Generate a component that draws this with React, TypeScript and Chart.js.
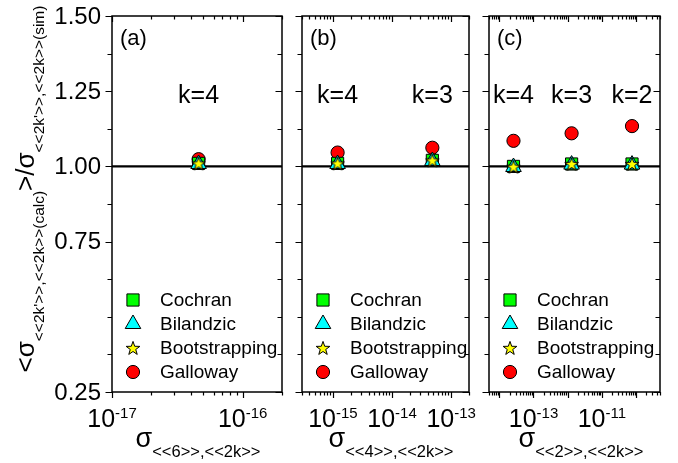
import { useEffect, useRef } from "react";
import { Chart, registerables } from "chart.js";
import { drawPoint } from "chart.js/helpers";

Chart.register(...registerables);

// ---------- data ----------
const METHODS = ["Cochran", "Bilandzic", "Bootstrapping", "Galloway"];

// y axis: ratio of calculated to simulated statistical error
const Y_MIN = 0.25;
const Y_MAX = 1.5;
const Y_TICKS = [0.25, 0.375, 0.5, 0.625, 0.75, 0.875, 1.0, 1.125, 1.25, 1.375, 1.5];
const Y_LABELLED = [0.25, 0.75, 1.0, 1.25, 1.5];

// (a) sigma_<<6>>,<<2k>>
const aK = ["k=4"];
const aSigma = [4.6e-17];
const aCochran = [1.01];
const aBilandzic = [1.008];
const aBootstrapping = [1.01];
const aGalloway = [1.024];
const aDecades = [-17, -16];

// (b) sigma_<<4>>,<<2k>>
const bK = ["k=4", "k=3"];
const bSigma = [1.2e-15, 4.8e-14];
const bCochran = [1.01, 1.02];
const bBilandzic = [1.008, 1.018];
const bBootstrapping = [1.01, 1.02];
const bGalloway = [1.046, 1.062];
const bDecades = [-15, -14, -13];

// (c) sigma_<<2>>,<<2k>>
const cK = ["k=4", "k=3", "k=2"];
const cSigma = [2.6e-14, 1.3e-12, 7.6e-11];
const cCochran = [1.0, 1.008, 1.008];
const cBilandzic = [0.998, 1.006, 1.006];
const cBootstrapping = [0.999, 1.008, 1.008];
const cGalloway = [1.085, 1.11, 1.134];
const cDecades = [-13, -11];

// ---------- layout / style ----------
const FONT = '"Liberation Sans", Arial, Helvetica, sans-serif';
const H = 463;
const PLOT_TOP = 16;
const PLOT_BOTTOM = 392;
const K_LABEL_BASE = 1.21; // baseline level of the "k=" annotations
const REF_LEVEL = 1.0;

type Panel = {
  letter: string;
  kLabels: string[];
  sigma: number[];
  series: number[][];
  xMin: number;
  xMax: number;
  decades: number[];
  sub: string;
  canvasLeft: number;
  canvasWidth: number;
  padLeft: number;
  padRight: number;
  titleCenter: number;
  yLabels: boolean;
};

const PANELS: Panel[] = [
  {
    letter: "(a)", kLabels: aK, sigma: aSigma,
    series: [aCochran, aBilandzic, aBootstrapping, aGalloway],
    xMin: 1e-17, xMax: 2e-16, decades: aDecades, sub: "<<6>>,<<2k>>",
    canvasLeft: 0, canvasWidth: 292, padLeft: 112, padRight: 7, titleCenter: 198, yLabels: true,
  },
  {
    letter: "(b)", kLabels: bK, sigma: bSigma,
    series: [bCochran, bBilandzic, bBootstrapping, bGalloway],
    xMin: 3e-16, xMax: 2e-13, decades: bDecades, sub: "<<4>>,<<2k>>",
    canvasLeft: 292, canvasWidth: 187, padLeft: 6, padRight: 6, titleCenter: 99, yLabels: false,
  },
  {
    letter: "(c)", kLabels: cK, sigma: cSigma,
    series: [cCochran, cBilandzic, cBootstrapping, cGalloway],
    xMin: 5e-15, xMax: 5e-10, decades: cDecades, sub: "<<2>>,<<2k>>",
    canvasLeft: 479, canvasWidth: 199, padLeft: 7, padRight: 18, titleCenter: 102, yLabels: false,
  },
];

function makeStar(): HTMLCanvasElement {
  const c = document.createElement("canvas");
  c.width = 18;
  c.height = 18;
  const ctx = c.getContext("2d")!;
  const R = 7.2;
  const r = R * 0.4;
  ctx.beginPath();
  for (let i = 0; i < 10; i++) {
    const rad = i % 2 === 0 ? R : r;
    const a = -Math.PI / 2 + (i * Math.PI) / 5;
    const x = 9 + rad * Math.cos(a);
    const y = 9.6 + rad * Math.sin(a);
    if (i === 0) ctx.moveTo(x, y);
    else ctx.lineTo(x, y);
  }
  ctx.closePath();
  ctx.fillStyle = "#ffff00";
  ctx.fill();
  ctx.lineWidth = 1;
  ctx.strokeStyle = "#000";
  ctx.stroke();
  return c;
}

type Marker = { pointStyle: any; radius: number; color: string };

function markers(star: HTMLCanvasElement): Marker[] {
  return [
    { pointStyle: "rect", radius: 8.6, color: "#00ff00" },
    { pointStyle: "triangle", radius: 9, color: "#00ffff" },
    { pointStyle: star, radius: 7, color: "#ffff00" },
    { pointStyle: "circle", radius: 6.6, color: "#ff0000" },
  ];
}

type Seg = { text: string; size: number; dy: number };

function segWidth(ctx: CanvasRenderingContext2D, segs: Seg[]) {
  let w = 0;
  for (const s of segs) {
    ctx.font = `${s.size}px ${FONT}`;
    w += ctx.measureText(s.text).width;
  }
  return w;
}

function drawSegs(ctx: CanvasRenderingContext2D, segs: Seg[], x: number, y: number) {
  let cx = x;
  for (const s of segs) {
    ctx.font = `${s.size}px ${FONT}`;
    ctx.fillText(s.text, cx, y + s.dy);
    cx += ctx.measureText(s.text).width;
  }
}

function panelPlugin(p: Panel, mk: Marker[]) {
  return {
    id: "panelDecor",
    beforeDatasetsDraw(chart: Chart) {
      const { ctx, chartArea } = chart;
      const y = chart.scales.y.getPixelForValue(REF_LEVEL);
      ctx.save();
      ctx.strokeStyle = "#000";
      ctx.lineWidth = 2.2;
      ctx.beginPath();
      ctx.moveTo(chartArea.left, y);
      ctx.lineTo(chartArea.right, y);
      ctx.stroke();
      ctx.restore();
    },
    afterDatasetsDraw(chart: Chart) {
      const { ctx, chartArea } = chart;
      const xs = chart.scales.x;
      const ys = chart.scales.y;
      const { left, right, top, bottom } = chartArea;
      ctx.save();
      ctx.strokeStyle = "#000";
      ctx.fillStyle = "#000";

      // frame
      ctx.lineWidth = 1.5;
      ctx.strokeRect(left, top, right - left, bottom - top);

      // x ticks (bottom outward, top inward)
      ctx.lineWidth = 1.2;
      const e0 = Math.floor(Math.log10(p.xMin));
      const e1 = Math.ceil(Math.log10(p.xMax));
      for (let e = e0; e <= e1; e++) {
        for (let m = 1; m <= 9; m++) {
          const v = m * Math.pow(10, e);
          if (v < p.xMin * 0.999 || v > p.xMax * 1.001) continue;
          const px = Math.round(xs.getPixelForValue(v)) + 0.5;
          const len = m === 1 ? 6 : 3.5;
          ctx.beginPath();
          ctx.moveTo(px, bottom);
          ctx.lineTo(px, bottom + len);
          ctx.moveTo(px, top);
          ctx.lineTo(px, top + len);
          ctx.stroke();
        }
      }

      // y ticks (left outward, right inward)
      for (const v of Y_TICKS) {
        const py = Math.round(ys.getPixelForValue(v)) + 0.5;
        const len = Y_LABELLED.includes(v) ? 6.5 : 4.5;
        ctx.beginPath();
        ctx.moveTo(left - len, py);
        ctx.lineTo(left, py);
        ctx.moveTo(right - len, py);
        ctx.lineTo(right, py);
        ctx.stroke();
      }

      // x tick labels: 10^e
      ctx.textBaseline = "alphabetic";
      ctx.textAlign = "left";
      for (const e of p.decades) {
        const px = xs.getPixelForValue(Math.pow(10, e));
        const segs: Seg[] = [
          { text: "10", size: 25, dy: 0 },
          { text: `-${Math.abs(e)}`, size: 15, dy: -9 },
        ];
        const w = segWidth(ctx, segs);
        drawSegs(ctx, segs, px - w / 2, 427);
      }

      // y tick labels
      if (p.yLabels) {
        ctx.font = `24px ${FONT}`;
        ctx.textAlign = "right";
        ctx.textBaseline = "middle";
        for (const v of Y_LABELLED) {
          ctx.fillText(v.toFixed(2), left - 11, ys.getPixelForValue(v) + 1);
        }
        // rotated y title
        const segs: Seg[] = [
          { text: "<σ", size: 26, dy: 0 },
          { text: "<<2k'>>,<<2k>>(calc)", size: 15.5, dy: 10 },
          { text: ">/σ", size: 26, dy: 0 },
          { text: "<<2k'>>,<<2k>>(sim)", size: 15.5, dy: 10 },
        ];
        const w = segWidth(ctx, segs);
        ctx.save();
        ctx.translate(34, 189 + w / 2);
        ctx.rotate(-Math.PI / 2);
        ctx.textAlign = "left";
        ctx.textBaseline = "alphabetic";
        drawSegs(ctx, segs, 0, 0);
        ctx.restore();
      }

      // x title
      {
        ctx.textAlign = "left";
        ctx.textBaseline = "alphabetic";
        const segs: Seg[] = [
          { text: "σ", size: 27, dy: 0 },
          { text: p.sub, size: 16.5, dy: 10 },
        ];
        const w = segWidth(ctx, segs);
        drawSegs(ctx, segs, p.titleCenter - w / 2, 447);
      }

      // panel letter
      ctx.font = `22px ${FONT}`;
      ctx.textAlign = "left";
      ctx.textBaseline = "alphabetic";
      ctx.fillText(p.letter, left + 8, 45);

      // k annotations above each group
      ctx.font = `25px ${FONT}`;
      ctx.textAlign = "center";
      const ky = ys.getPixelForValue(K_LABEL_BASE);
      p.kLabels.forEach((k, i) => {
        ctx.fillText(k, xs.getPixelForValue(p.sigma[i]), ky);
      });

      // legend
      ctx.font = `19px ${FONT}`;
      ctx.textAlign = "left";
      ctx.textBaseline = "middle";
      METHODS.forEach((name, i) => {
        const rowY = 300 + i * 24;
        const m = mk[i];
        ctx.fillStyle = m.color;
        ctx.strokeStyle = "#000";
        ctx.lineWidth = 1;
        drawPoint(ctx, { pointStyle: m.pointStyle, radius: m.radius, rotation: 0, borderWidth: 1 } as any, left + 21, rowY);
        ctx.fillStyle = "#000";
        ctx.fillText(name, left + 48, rowY + 1);
      });

      ctx.restore();
    },
  };
}

function buildChart(canvas: HTMLCanvasElement, p: Panel, mk: Marker[]) {
  const order = [2, 1, 0, 3];
  const datasets = METHODS.map((name, i) => ({
    label: name,
    data: p.sigma.map((x, j) => ({ x, y: p.series[i][j] })),
    pointStyle: mk[i].pointStyle,
    pointRadius: mk[i].radius,
    pointBackgroundColor: mk[i].color,
    pointBorderColor: "#000",
    pointBorderWidth: 1,
    showLine: false,
    order: order[i],
  }));
  return new Chart(canvas, {
    type: "scatter",
    data: { datasets } as any,
    options: {
      responsive: false,
      animation: false,
      events: [],
      devicePixelRatio: 1,
      layout: {
        padding: { left: p.padLeft, right: p.padRight, top: PLOT_TOP, bottom: H - PLOT_BOTTOM },
      },
      scales: {
        x: { type: "logarithmic", min: p.xMin, max: p.xMax, display: false },
        y: { type: "linear", min: Y_MIN, max: Y_MAX, display: false },
      },
      plugins: { legend: { display: false }, tooltip: { enabled: false } },
    },
    plugins: [panelPlugin(p, mk)],
  });
}

export default function App() {
  const r0 = useRef<HTMLCanvasElement>(null);
  const r1 = useRef<HTMLCanvasElement>(null);
  const r2 = useRef<HTMLCanvasElement>(null);
  const refs = [r0, r1, r2];

  useEffect(() => {
    const mk = markers(makeStar());
    const charts = PANELS.map((p, i) => buildChart(refs[i].current!, p, mk));
    return () => charts.forEach((c) => c.destroy());
  }, []);

  return (
    <div style={{ position: "fixed", left: 0, top: 0, width: 678, height: H, background: "#fff" }}>
      {PANELS.map((p, i) => (
        <canvas
          key={p.letter}
          ref={refs[i]}
          width={p.canvasWidth}
          height={H}
          style={{ position: "absolute", left: p.canvasLeft, top: 0, width: p.canvasWidth, height: H }}
        />
      ))}
    </div>
  );
}
